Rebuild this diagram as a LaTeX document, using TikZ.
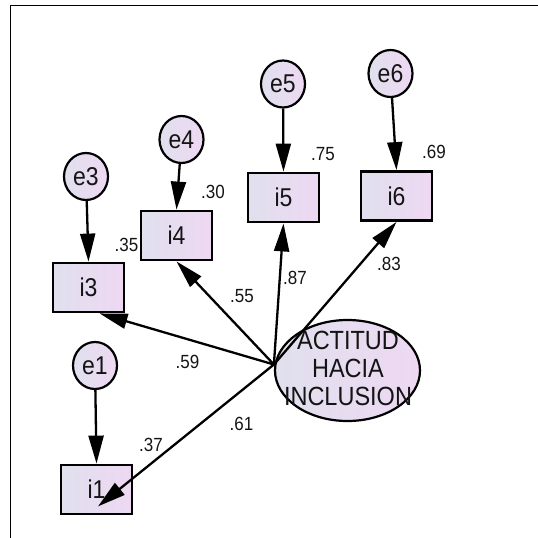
\documentclass[tikz,border=0pt]{standalone}
\usepackage{fontspec}
\setmainfont{Liberation Sans}
\usetikzlibrary{arrows.meta,shapes.geometric,calc}
\definecolor{fillL}{RGB}{224,224,238}
\definecolor{fillR}{RGB}{238,216,242}
\definecolor{txt}{RGB}{20,20,20}
\newcommand\vstr[1]{\scalebox{1}[1.12]{#1}}
\begin{document}
\begin{tikzpicture}[x=1pt,y=-1pt,
  obs/.style={draw=black, line width=2.8pt, left color=fillL, right color=fillR,
    minimum width=71pt, minimum height=49pt, inner sep=0pt,
    font=\fontsize{23}{23}\selectfont, text=txt},
  err/.style={ellipse, draw=black, line width=2.2pt, left color=fillL, right color=fillR,
    minimum width=44pt, minimum height=47pt, inner sep=0pt,
    font=\fontsize{23}{23}\selectfont, text=txt},
  lat/.style={ellipse, draw=black, line width=2.2pt, left color=fillL, right color=fillR,
    minimum width=145pt, minimum height=101pt, inner sep=0pt},
  conn/.style={line width=2.3pt, -{Triangle[length=28pt,width=15pt]}},
  coef/.style={font=\fontsize{17}{17}\selectfont, text=txt, inner sep=0pt}
]
\useasboundingbox (0,0) rectangle (538,538);
\draw[line width=1pt] (10.5,538) -- (10.5,5.5) -- (538,5.5);

% latent variable
\node[lat] (F) at (347.5,370.5) {};

% observed variables
\node[obs] (i3) at (88.5,287.5) {\vstr{i3}};
\node[obs] (i4) at (176.5,235.5) {\vstr{i4}};
\node[obs] (i5) at (283.5,197.5) {\vstr{i5}};
\node[obs] (i6) at (396.5,196) {\vstr{i6}};
\node[obs] (i1) at (96.5,489.5) {\vstr{i1}};

% errors
\node[err] (e3) at (86,176.5) {\vstr{e3}};
\node[err] (e4) at (181.5,139.5) {\vstr{e4}};
\node[err] (e5) at (283,84) {\vstr{e5}};
\node[err] (e6) at (390.5,73.5) {\vstr{e6}};
\node[err] (e1) at (95,365.5) {\vstr{e1}};

% connector points
\coordinate (src) at ([yshift=6pt]F.west);
\coordinate (t3) at ([xshift=11pt]i3.south);
\coordinate (t1) at ([shift={(1.5,-9)}]i1.south);

% loadings
\draw[conn] (src) -- (t3);
\draw[conn] (src) -- (i4.south);
\draw[conn] (src) -- (i5.south);
\draw[conn] (src) -- (i6.south);
\draw[conn] (src) -- (t1);

% error paths
\draw[conn] (e3) -- (i3.north);
\draw[conn] (e4) -- (i4.north);
\draw[conn] (e5) -- (i5.north);
\draw[conn] (e6) -- (i6.north);
\draw[conn] (e1) -- (i1.north);

% latent label
\node[font=\fontsize{23.5}{25}\selectfont, text=txt, inner sep=0pt] (Ft) at (348,372)
  {\vstr{\begin{tabular}{@{}c@{}}ACTITUD\\HACIA\\INCLUSION\end{tabular}}};

% coefficients
\node[coef] (c35) at (126.5,244.5) {\vstr{.35}};
\node[coef] (c30) at (213,192) {\vstr{.30}};
\node[coef] (c75) at (323,154) {\vstr{.75}};
\node[coef] (c69) at (434,152) {\vstr{.69}};
\node[coef] (c55) at (242,296) {\vstr{.55}};
\node[coef] (c87) at (295,278) {\vstr{.87}};
\node[coef] (c83) at (389,264) {\vstr{.83}};
\node[coef] (c59) at (187.5,362) {\vstr{.59}};
\node[coef] (c61) at (241.5,424) {\vstr{.61}};
\node[coef] (c37) at (151,444.5) {\vstr{.37}};
\end{tikzpicture}
\end{document}
